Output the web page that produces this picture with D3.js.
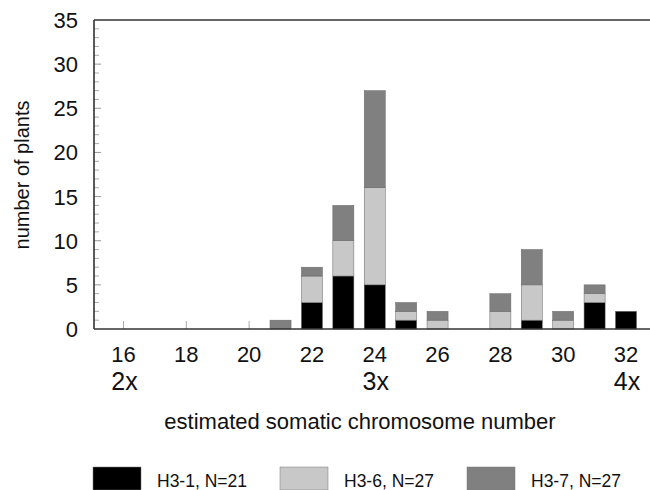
<!DOCTYPE html>
<html>
<head>
<meta charset="utf-8">
<script src="https://cdn.jsdelivr.net/npm/d3@7"></script>
<style>
  html, body { margin: 0; padding: 0; background: #fff; }
  svg { display: block; font-family: "Liberation Sans", Arial, sans-serif; }
</style>
</head>
<body>
<svg id="chart" width="650" height="490"></svg>
<script>
// chromosome numbers with counts per line
const chromosomes = [21, 22, 23, 24, 25, 26, 27, 28, 29, 30, 31, 32];
const h31 = [0, 3, 6, 5, 1, 0, 0, 0, 1, 0, 3, 2];
const h36 = [0, 3, 4, 11, 1, 1, 0, 2, 4, 1, 1, 0];
const h37 = [1, 1, 4, 11, 1, 1, 0, 2, 4, 1, 1, 0];
const seriesNames = ["H3-1, N=21", "H3-6, N=27", "H3-7, N=27"];
const seriesColors = ["#000000", "#c8c8c8", "#808080"];
const xTicks = [16, 18, 20, 22, 24, 26, 28, 30, 32];
const ploidy = [{ at: 16, label: "2x" }, { at: 24, label: "3x" }, { at: 32, label: "4x" }];
const yTicks = [0, 5, 10, 15, 20, 25, 30, 35];

const svg = d3.select("#chart");
const pLeft = 94, pRight = 650, pTop = 20, pBottom = 329;

const x = d3.scaleLinear().domain([16, 32]).range([123.5, 626]);
const y = d3.scaleLinear().domain([0, 35]).range([pBottom, pTop]);
const barW = x(16.67) - x(16);

const rows = chromosomes.map((c, i) => ({ c, h31: h31[i], h36: h36[i], h37: h37[i] }));
const stack = d3.stack().keys(["h31", "h36", "h37"])(rows);

// minor y ticks
const minor = d3.range(1, 35).filter(v => v % 5 !== 0);
svg.append("g").selectAll("line").data(minor).enter().append("line")
  .attr("x1", pLeft).attr("x2", pLeft + 5)
  .attr("y1", d => y(d)).attr("y2", d => y(d))
  .attr("stroke", "#aaa").attr("stroke-width", 1);
svg.append("g").selectAll("line").data(yTicks.slice(1, -1)).enter().append("line")
  .attr("x1", pLeft).attr("x2", pLeft + 7)
  .attr("y1", d => y(d)).attr("y2", d => y(d))
  .attr("stroke", "#999").attr("stroke-width", 1);

// x ticks inside
svg.append("g").selectAll("line").data(xTicks).enter().append("line")
  .attr("x1", d => x(d)).attr("x2", d => x(d))
  .attr("y1", pBottom).attr("y2", pBottom - 8)
  .attr("stroke", "#aaa").attr("stroke-width", 1);

// bars
svg.append("g").selectAll("g").data(stack).enter().append("g")
  .attr("fill", (d, i) => seriesColors[i])
  .selectAll("rect").data(d => d.filter(s => s[1] > s[0])).enter().append("rect")
  .attr("x", d => x(d.data.c) - barW / 2)
  .attr("width", barW)
  .attr("y", d => y(d[1]))
  .attr("height", d => y(d[0]) - y(d[1]))
  .attr("stroke", "#666").attr("stroke-width", 0.5);

// frame: left, top and bottom
svg.append("line").attr("x1", pLeft).attr("x2", pLeft).attr("y1", pTop).attr("y2", pBottom)
  .attr("stroke", "#333").attr("stroke-width", 1.6);
svg.append("line").attr("x1", pLeft).attr("x2", pRight).attr("y1", pTop).attr("y2", pTop)
  .attr("stroke", "#333").attr("stroke-width", 1.6);
svg.append("line").attr("x1", pLeft).attr("x2", pRight).attr("y1", pBottom).attr("y2", pBottom)
  .attr("stroke", "#333").attr("stroke-width", 1.6);

// y tick labels
svg.append("g").selectAll("text").data(yTicks).enter().append("text")
  .attr("x", 78).attr("y", d => y(d) + 8)
  .attr("text-anchor", "end").attr("fill", "#111")
  .style("font-size", "22px").text(d => d);

// x tick labels
svg.append("g").selectAll("text").data(xTicks).enter().append("text")
  .attr("x", d => x(d)).attr("y", 362)
  .attr("text-anchor", "middle").attr("fill", "#111")
  .style("font-size", "22px").text(d => d);

svg.append("g").selectAll("text").data(ploidy).enter().append("text")
  .attr("x", d => x(d.at) + 1).attr("y", 390)
  .attr("text-anchor", "middle").attr("fill", "#111")
  .style("font-size", "25px").text(d => d.label);

// axis titles
svg.append("text")
  .attr("transform", "translate(29,175) rotate(-90)")
  .attr("text-anchor", "middle").attr("fill", "#111")
  .style("font-size", "20px").text("number of plants");

svg.append("text")
  .attr("x", 360).attr("y", 429)
  .attr("text-anchor", "middle").attr("fill", "#111")
  .style("font-size", "22px").text("estimated somatic chromosome number");

// legend
const legendX = [93, 280, 467];
const lg = svg.append("g").selectAll("g").data(seriesNames).enter().append("g")
  .attr("transform", (d, i) => `translate(${legendX[i]},467)`);
lg.append("rect").attr("width", 48).attr("height", 23)
  .attr("fill", (d, i) => seriesColors[i]).attr("stroke", "#777").attr("stroke-width", 0.5);
lg.append("text").attr("x", 64).attr("y", 20)
  .attr("fill", "#111").style("font-size", "17.5px").text(d => d);
</script>
</body>
</html>
